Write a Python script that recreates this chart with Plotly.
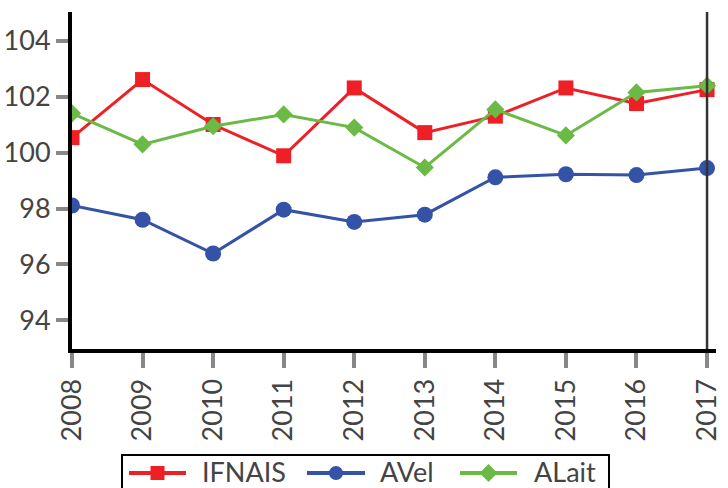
import plotly.graph_objects as go

years = [2008, 2009, 2010, 2011, 2012, 2013, 2014, 2015, 2016, 2017]
ifnais = [100.54, 102.62, 101.01, 99.89, 102.32, 100.72, 101.31, 102.32, 101.76, 102.26]
avel = [98.11, 97.60, 96.39, 97.96, 97.52, 97.78, 99.12, 99.23, 99.20, 99.45]
alait = [101.41, 100.30, 100.95, 101.37, 100.90, 99.47, 101.55, 100.62, 102.16, 102.40]
y_ticks = [94, 96, 98, 100, 102, 104]
series_names = ["IFNAIS", "AVel", "ALait"]

RED = "#ee1f25"
BLUE = "#3453a6"
GREEN = "#6aba45"
TXT = "#444444"
FONT = "Lato"

W, H = 728, 488
L, R, T, B = 72, 716, 12, 349


def px(x):
    return (x - L) / (R - L)


def py(y):
    return (B - y) / (B - T)


fig = go.Figure()
fig.add_trace(go.Scatter(x=years, y=ifnais, name=series_names[0], mode="lines+markers",
                         line=dict(color=RED, width=3),
                         marker=dict(symbol="square", size=15, color=RED)))
fig.add_trace(go.Scatter(x=years, y=avel, name=series_names[1], mode="lines+markers",
                         line=dict(color=BLUE, width=3),
                         marker=dict(symbol="circle", size=16, color=BLUE)))
fig.add_trace(go.Scatter(x=years, y=alait, name=series_names[2], mode="lines+markers",
                         line=dict(color=GREEN, width=3),
                         marker=dict(symbol="diamond", size=14, color=GREEN)))

# vertical marker line at last year
fig.add_shape(type="line", xref="x", yref="paper", x0=years[-1], x1=years[-1], y0=0, y1=1,
              line=dict(color="#333333", width=2.5))

# custom legend (box cut at the bottom edge of the picture)
shapes = []
annotations = []
shapes.append(dict(type="rect", xref="paper", yref="paper",
                   x0=px(122), x1=px(609), y0=py(505), y1=py(455),
                   line=dict(color="black", width=2), fillcolor="rgba(0,0,0,0)"))
cy = 473
ty = 471
items = [
    (series_names[0], RED, "square", 129, 186, 200),
    (series_names[1], BLUE, "circle", 307, 365, 378),
    (series_names[2], GREEN, "diamond", 460, 517, 532),
]
for name, col, sym, x0, x1, tx in items:
    shapes.append(dict(type="line", xref="paper", yref="paper",
                       x0=px(x0), x1=px(x1), y0=py(cy), y1=py(cy),
                       line=dict(color=col, width=4)))
    cx = (x0 + x1) / 2
    if sym == "square":
        h = 7
        shapes.append(dict(type="rect", xref="paper", yref="paper",
                           x0=px(cx - h), x1=px(cx + h), y0=py(cy + h), y1=py(cy - h),
                           line=dict(width=0), fillcolor=col))
    elif sym == "circle":
        h = 7
        shapes.append(dict(type="circle", xref="paper", yref="paper",
                           x0=px(cx - h), x1=px(cx + h), y0=py(cy + h), y1=py(cy - h),
                           line=dict(width=0), fillcolor=col))
    else:
        h = 9
        path = "M {a},{b} L {c},{d} L {a},{e} L {f},{d} Z".format(
            a=px(cx), b=py(cy - h), c=px(cx + h), d=py(cy), e=py(cy + h), f=px(cx - h))
        shapes.append(dict(type="path", xref="paper", yref="paper", path=path,
                           line=dict(width=0), fillcolor=col))
    annotations.append(dict(xref="paper", yref="paper", x=px(tx), y=py(ty),
                            xanchor="left", yanchor="middle", showarrow=False,
                            text=name, font=dict(family=FONT, size=27, color=TXT)))

for s in shapes:
    fig.add_shape(**s)
for a in annotations:
    fig.add_annotation(**a)

fig.update_layout(
    width=W, height=H,
    margin=dict(l=L, r=W - R, t=T, b=H - B, autoexpand=False),
    plot_bgcolor="white", paper_bgcolor="white",
    font=dict(family=FONT, size=27, color=TXT),
    showlegend=False,
    xaxis=dict(range=[2008, 2017.127], tickvals=years, ticktext=[str(y) for y in years],
               tickangle=-90, showgrid=False, zeroline=False, automargin=False,
               showline=True, linecolor="black", linewidth=4,
               ticks="outside", ticklen=15, tickwidth=3.5, tickcolor="#888888",
               tickfont=dict(family=FONT, size=27, color=TXT)),
    yaxis=dict(range=[92.97, 105.04], tickvals=y_ticks, showgrid=False, zeroline=False,
               automargin=False,
               showline=True, linecolor="black", linewidth=4,
               ticks="outside", ticklen=12, tickwidth=3.5, tickcolor="#888888",
               tickfont=dict(family=FONT, size=27, color=TXT)),
)

fig.write_html("out.html", config={"displayModeBar": False},
               post_script="document.body.style.margin='0';document.body.style.overflow='hidden';")
